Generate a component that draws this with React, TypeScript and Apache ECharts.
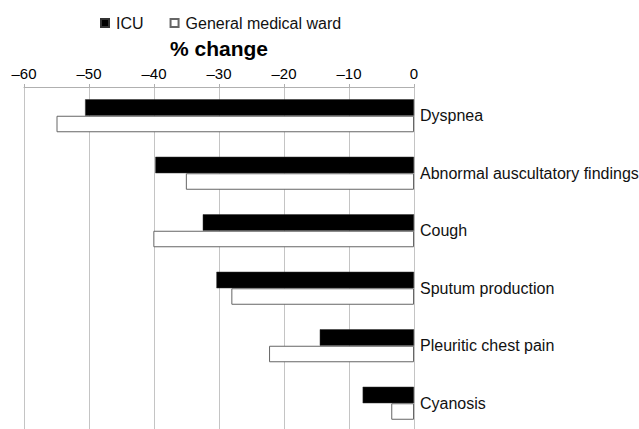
import React, { useEffect, useRef } from "react";
import * as echarts from "echarts";

const categories = [
  "Dyspnea",
  "Abnormal auscultatory findings",
  "Cough",
  "Sputum production",
  "Pleuritic chest pain",
  "Cyanosis",
];
const icuValues = [-50.6, -39.8, -32.5, -30.4, -14.5, -7.9];
const wardValues = [-55.0, -35.1, -40.1, -28.1, -22.3, -3.5];
const seriesNames = ["ICU", "General medical ward"];
const axisTitle = "% change";

const FONT = "'Liberation Sans', Arial, sans-serif";

export default function App() {
  const ref = useRef<HTMLDivElement>(null);
  useEffect(() => {
    if (!ref.current) return;
    const chart = echarts.init(ref.current, undefined, { renderer: "svg" });
    chart.setOption({
      animation: false,
      backgroundColor: "#ffffff",
      textStyle: { fontFamily: FONT },
      legend: {
        left: 95,
        top: 10,
        icon: "rect",
        itemWidth: 8,
        itemHeight: 8,
        itemGap: 26,
        textStyle: { fontSize: 16, color: "#111", fontFamily: FONT, padding: [0, 0, 0, 2] },
        data: seriesNames,
      },
      grid: {
        left: 24,
        right: 225,
        top: 87,
        height: 345,
        containLabel: false,
        outerBoundsMode: "none",
      },
      xAxis: {
        type: "value",
        position: "top",
        min: -60,
        max: 0,
        interval: 10,
        name: axisTitle,
        nameLocation: "middle",
        nameGap: 28,
        nameTextStyle: { fontSize: 21, fontWeight: "bold", color: "#000", fontFamily: FONT },
        axisLine: { show: true, lineStyle: { color: "#b0b0b0", width: 1 } },
        axisTick: { show: true, length: 3, lineStyle: { color: "#b0b0b0" } },
        axisLabel: {
          fontSize: 15,
          color: "#000",
          margin: 6,
          fontFamily: FONT,
          formatter: (v: number) => String(v).replace("-", "\u2013"),
        },
        splitLine: { show: true, lineStyle: { color: "#c4c4c4", width: 1 } },
      },
      yAxis: {
        type: "category",
        data: categories,
        inverse: true,
        position: "right",
        axisLine: { show: false },
        axisTick: { show: false },
        axisLabel: { fontSize: 16, color: "#111", margin: 6, fontFamily: FONT },
        splitLine: { show: false },
      },
      series: [
        {
          name: seriesNames[0],
          type: "bar",
          data: icuValues,
          barWidth: 16.5,
          barGap: "0%",
          itemStyle: { color: "#000000", borderColor: "#333", borderWidth: 0.5 },
        },
        {
          name: seriesNames[1],
          type: "bar",
          data: wardValues,
          barWidth: 16.5,
          barGap: "0%",
          itemStyle: { color: "#ffffff", borderColor: "#666666", borderWidth: 1 },
        },
      ],
    });
    return () => chart.dispose();
  }, []);
  return (
    <div
      ref={ref}
      style={{ position: "fixed", left: 0, top: 0, width: 639, height: 429, background: "#fff" }}
    />
  );
}
